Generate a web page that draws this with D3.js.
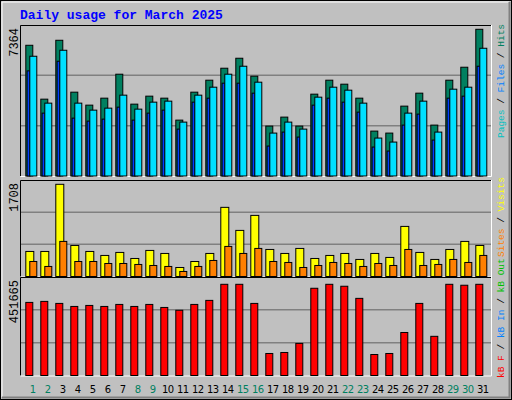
<!DOCTYPE html><html><head><meta charset="utf-8">
<script src="https://cdn.jsdelivr.net/npm/d3@7"></script>
<style>body{margin:0;background:#fff}</style></head><body><svg id="c" width="512" height="400"></svg>
<script>
const days=d3.range(1,32);
const weekend=[1,2,8,9,15,16,22,23,29,30];
const hits=[6562,3857,6813,4208,3557,3907,5110,3607,4008,3907,2805,4208,4809,5410,5911,5010,2505,2956,2505,4108,4809,4609,3907,2254,2154,3507,4158,2555,4809,5460,7364];
const files=[6011,3657,6312,3657,3306,3406,4058,3356,3707,3757,2705,4058,4458,5110,5510,4709,2154,2705,2354,3957,4458,4308,3657,1904,1703,3156,3757,2204,4358,4458,6412];
const pages=[5277,3156,5761,2905,2755,2855,3456,2805,3156,3306,2354,3707,3907,4659,4659,4158,1503,2204,1954,3557,3907,3707,3206,1453,1252,2555,3106,1803,3907,4008,5510];
const visits=[464,464,1708,575,464,390,446,334,483,427,167,278,427,1281,854,1132,501,427,520,334,390,427,316,427,353,928,446,316,501,650,575];
const sites=[278,186,650,278,278,241,241,223,204,186,93,186,297,557,427,520,278,260,167,204,260,241,186,241,204,501,204,223,316,260,390];
const kbytes=[362000,367000,357000,342000,347000,342000,352000,342000,352000,337000,323000,352000,372000,451665,451665,357000,109000,114000,159000,432000,451665,442000,382000,104000,109000,213000,357000,194000,451665,447000,451665];
const maxHits=7364,maxVisits=1708,maxKB=451665;

const svg=d3.select("#c");
svg.append("rect").attr("x",0).attr("y",0).attr("width",512).attr("height",400).attr("fill","#c0c0c0");
svg.append("rect").attr("x",0.5).attr("y",0.5).attr("width",511).attr("height",399).attr("fill","none").attr("stroke","#000");
svg.append("path").attr("d","M2,397V2H509").attr("stroke","#fff").attr("fill","none");
svg.append("path").attr("d","M2,397.5H509.5V2").attr("stroke","#808080").attr("fill","none").attr("stroke-width",2);
svg.append("text").attr("x",20).attr("y",19).text("Daily usage for March 2025")
 .attr("font-family","Liberation Mono, DejaVu Sans Mono, monospace").attr("font-weight","bold").attr("font-size",13).attr("fill","#0000ff");

const step=15, x0=d=>25.3+(d-1)*step;
const panels=[{t:25,b:176},{t:180,b:276.5},{t:277,b:375.5}];
panels.forEach(p=>{
  const h=p.b-p.t;
  [1,2].forEach(k=>svg.append("line").attr("x1",21).attr("x2",491).attr("y1",p.t+h*k/3).attr("y2",p.t+h*k/3).attr("stroke","#808080").attr("stroke-width",1.5));
  svg.append("path").attr("d",`M20.5,${p.b}V${p.t+.5}H491`).attr("stroke","#000").attr("fill","none");
  svg.append("path").attr("d",`M20.5,${p.b+.5}H491.5V${p.t}`).attr("stroke","#fff").attr("fill","none");
});
function bars(data,max,p,dx,w,color,topPad){
  const y=d3.scaleLinear().domain([0,max]).range([p.b,p.t+topPad]);
  svg.append("g").selectAll("rect").data(data).join("rect")
   .attr("x",(d,i)=>x0(days[i])+dx+0.5).attr("y",d=>y(d)).attr("width",w).attr("height",d=>p.b-y(d))
   .attr("fill",color).attr("stroke","#000").attr("stroke-width",1);
}
bars(hits,maxHits,panels[0],0,7,"#008060",4.3);
bars(pages,maxHits,panels[0],1.3,3,"#0040ff",4.3);
bars(files,maxHits,panels[0],4,7,"#00e0ff",4.3);
bars(visits,maxVisits,panels[1],0,8,"#ffff00",4.3);
bars(sites,maxVisits,panels[1],4,7,"#ff8000",4.3);
bars(kbytes,maxKB,panels[2],0,7,"#ff0000",7.3);

const mono="Liberation Mono, DejaVu Sans Mono, monospace";
[[maxHits,panels[0]],[maxVisits,panels[1]],[maxKB,panels[2]]].forEach(([v,p])=>{
  svg.append("text").attr("transform",`translate(18,${p.t+3}) rotate(-90)`).attr("text-anchor","end")
   .attr("font-family",mono).attr("font-size",12).attr("fill","#000").text(v);
});
function legend(parts,yEnd){
  const t=svg.append("text").attr("transform",`translate(504,${yEnd}) rotate(-90)`).attr("font-family",mono).attr("font-size",9.5);
  parts.forEach(([s,c])=>t.append("tspan").attr("fill",c).text(s));
}
legend([["Pages","#00c0c0"],[" / ","#000"],["Files","#0080ff"],[" / ","#000"],["Hits","#008060"]],138);
legend([["Sites","#ff8000"],[" / ","#000"],["Visits","#ffff00"]],257);
legend([["kB F","#ff0000"],[" / ","#000"],["kB In","#0080ff"],[" / ","#000"],["kB Out","#00c000"]],378);

svg.append("g").selectAll("text").data(days).join("text")
 .attr("x",d=>x0(d)+7.5).attr("y",393).attr("text-anchor","middle").attr("font-family","DejaVu Sans, sans-serif").attr("font-size",10).attr("letter-spacing",-0.5)
 .attr("fill",d=>weekend.includes(d)?"#008060":"#000").text(d=>d);
</script></body></html>
